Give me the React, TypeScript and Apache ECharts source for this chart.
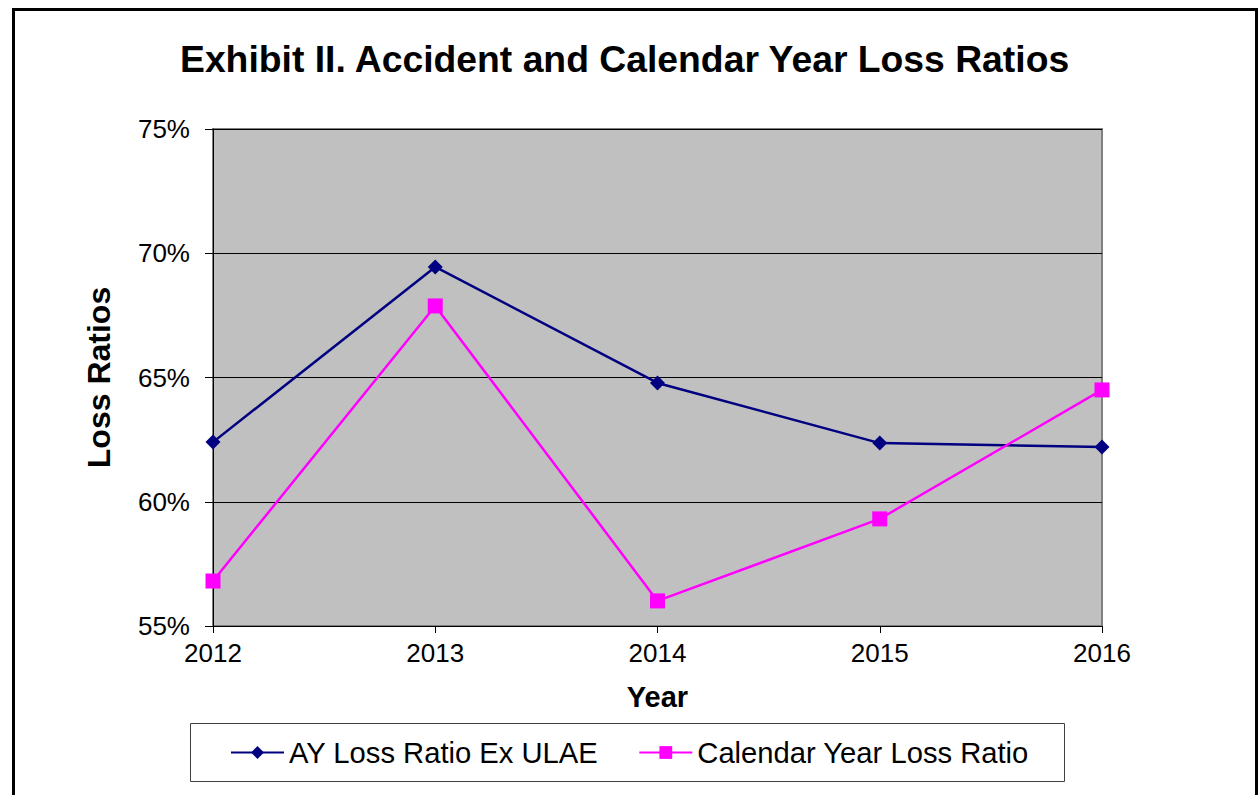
import React, { useEffect, useRef } from "react";
import * as echarts from "echarts";

const years = ["2012", "2013", "2014", "2015", "2016"];
const ayLossRatio = [62.4, 69.45, 64.78, 62.36, 62.2];
const cyLossRatio = [56.81, 67.88, 56.01, 59.31, 64.5];
const seriesNames = ["AY Loss Ratio Ex ULAE", "Calendar Year Loss Ratio"];
const titleText = "Exhibit II. Accident and Calendar Year Loss Ratios";

const FONT = "'Liberation Sans', Arial, Helvetica, sans-serif";

export default function App() {
  const ref = useRef<HTMLDivElement>(null);
  useEffect(() => {
    if (!ref.current) return;
    const chart = echarts.init(ref.current, undefined, { renderer: "svg" });
    chart.setOption({
      animation: false,
      backgroundColor: "#ffffff",
      textStyle: { fontFamily: FONT },
      title: {
        text: titleText,
        left: 175,
        top: 35,
        textStyle: { fontFamily: FONT, fontSize: 37.3, fontWeight: "bold", color: "#000" },
      },
      graphic: [
        {
          type: "rect",
          shape: { x: 13.5, y: 9.5, width: 1243, height: 800 },
          style: { fill: "none", stroke: "#000", lineWidth: 3 },
          silent: true,
        },
        {
          type: "rect",
          shape: { x: 190.5, y: 723.5, width: 874, height: 58 },
          style: { fill: "#fff", stroke: "#404040", lineWidth: 1 },
          silent: true,
          z: -1,
        },
      ],
      legend: {
        left: 230,
        top: 738,
        itemWidth: 53,
        itemHeight: 16,
        itemGap: 40,
        padding: 0,
        data: seriesNames,
        textStyle: { fontFamily: FONT, fontSize: 29.2, color: "#000" },
      },
      grid: {
        left: 213,
        top: 129,
        width: 889,
        height: 497,
        show: true,
        backgroundColor: "#C0C0C0",
        borderColor: "#808080",
        borderWidth: 2,
      },
      xAxis: {
        type: "category",
        data: years,
        boundaryGap: false,
        name: "Year",
        nameLocation: "middle",
        nameGap: 56,
        nameTextStyle: { fontFamily: FONT, fontSize: 29, fontWeight: "bold", color: "#000" },
        axisLine: { lineStyle: { color: "#000", width: 1 } },
        axisTick: { show: true, length: 7, lineStyle: { color: "#000" } },
        axisLabel: { fontFamily: FONT, fontSize: 26, color: "#000", margin: 14 },
        splitLine: { show: false },
      },
      yAxis: {
        type: "value",
        min: 55,
        max: 75,
        interval: 5,
        name: "Loss Ratios",
        nameLocation: "middle",
        nameGap: 98,
        nameTextStyle: { fontFamily: FONT, fontSize: 32, fontWeight: "bold", color: "#000" },
        axisLine: { show: true, lineStyle: { color: "#000", width: 1 } },
        axisTick: { show: true, length: 8, lineStyle: { color: "#000" } },
        axisLabel: { fontFamily: FONT, fontSize: 26, color: "#000", margin: 23, formatter: "{value}%" },
        splitLine: { show: true, lineStyle: { color: "#000", width: 1 } },
      },
      series: [
        {
          name: seriesNames[0],
          type: "line",
          data: ayLossRatio,
          symbol: "diamond",
          symbolSize: 15,
          lineStyle: { color: "#000080", width: 2.5 },
          itemStyle: { color: "#000080" },
        },
        {
          name: seriesNames[1],
          type: "line",
          data: cyLossRatio,
          symbol: "rect",
          symbolSize: 15,
          lineStyle: { color: "#FF00FF", width: 2.5 },
          itemStyle: { color: "#FF00FF" },
        },
      ],
    });
    return () => chart.dispose();
  }, []);
  return (
    <div
      ref={ref}
      style={{ position: "fixed", left: 0, top: 0, width: 1259, height: 795 }}
    />
  );
}
